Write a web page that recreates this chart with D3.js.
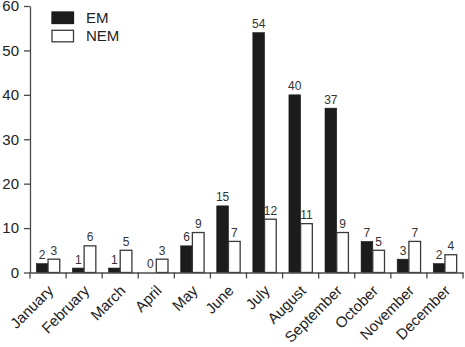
<!DOCTYPE html>
<html><head><meta charset="utf-8">
<script src="https://cdn.jsdelivr.net/npm/d3@7/dist/d3.min.js"></script>
<style>body{margin:0;background:#fff}svg{display:block}</style>
</head><body>
<svg id="c" width="465" height="347"></svg>
<script>
const months = ["January","February","March","April","May","June","July","August","September","October","November","December"];
const em  = [2,1,1,0,6,15,54,40,37,7,3,2];
const nem = [3,6,5,3,9,7,12,11,9,5,7,4];
const seriesNames = ["EM","NEM"];
const yTicks = [0,10,20,30,40,50,60];

(function(){
const svg = d3.select("#c");
const font = "'Liberation Sans', Arial, sans-serif";
const mLeft = 30, mRight = 463, mTop = 6, zero = 272.5;
const x = d3.scaleBand().domain(months).range([mLeft, mRight]).paddingInner(0).paddingOuter(0);
const y = d3.scaleLinear().domain([0,60]).range([zero, mTop]);
const axisColor = "#4a4a4a", textColor = "#222";

const barW = 11.7;
const rows = months.map((m,i)=>({m, vals:[em[i], nem[i]]}));
const g = svg.append("g");
rows.forEach(r=>{
  const cx = x(r.m) + x.bandwidth()/2;
  r.vals.forEach((v,j)=>{
    const bx = cx - barW + j*barW;
    g.append("rect")
      .attr("x", bx).attr("y", y(v)).attr("width", barW).attr("height", zero - y(v))
      .attr("fill", j===0 ? "#1c1c1c" : "#fff")
      .attr("stroke", j===0 ? "#1c1c1c" : "#3a3a3a").attr("stroke-width", j===0?0.6:1.3);
    g.append("text").attr("x", bx + barW/2).attr("y", y(v) - 4.5)
      .attr("text-anchor","middle").attr("font-family",font).attr("font-size",12)
      .attr("fill","#333").text(v);
  });
});

// y axis
const ya = svg.append("g").attr("transform",`translate(${mLeft},0)`)
  .call(d3.axisLeft(y).tickValues(yTicks).tickSize(6).tickPadding(5).tickSizeOuter(0));
ya.select(".domain").attr("stroke",axisColor).attr("stroke-width",1.3);
ya.selectAll(".tick line").attr("stroke",axisColor).attr("stroke-width",1.3);
ya.selectAll(".tick text").attr("font-family",font).attr("font-size",15).attr("fill",textColor);

// x axis
const xa = svg.append("g").attr("transform",`translate(0,${zero})`)
  .call(d3.axisBottom(x).tickSize(0).tickSizeOuter(0).tickFormat(""));
xa.select(".domain").attr("stroke",axisColor).attr("stroke-width",1.3);
xa.selectAll(".tick").remove();
const bounds = months.map(m=>x(m)).concat([mRight]);
xa.selectAll("line.b").data(bounds).enter().append("line")
  .attr("x1",d=>d).attr("x2",d=>d).attr("y1",0).attr("y2",6)
  .attr("stroke",axisColor).attr("stroke-width",1.3);
xa.selectAll("text.lab").data(months).enter().append("text")
  .attr("transform",d=>`translate(${x(d)+x.bandwidth()/2+2.5},${15.5}) rotate(-45)`)
  .attr("text-anchor","end").attr("dy","0.35em")
  .attr("font-family",font).attr("font-size",15).attr("fill",textColor).text(d=>d);

// legend
const leg = svg.append("g");
seriesNames.forEach((s,i)=>{
  leg.append("rect").attr("x",52).attr("y",12 + i*18.3).attr("width",21.5).attr("height",11.5)
    .attr("fill", i===0?"#1c1c1c":"#fff").attr("stroke", i===0?"#1c1c1c":"#3a3a3a").attr("stroke-width",1.3);
  leg.append("text").attr("x",86).attr("y",23.3 + i*18.1).attr("font-family",font).attr("font-size",15)
    .attr("fill",textColor).text(s);
});
})();
</script>
</body></html>
